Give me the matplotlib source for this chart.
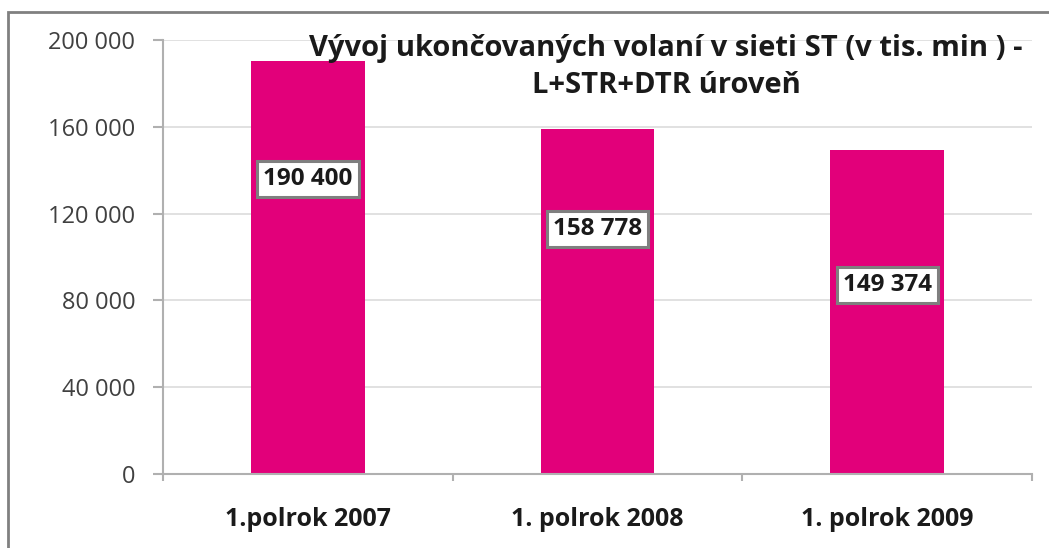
import matplotlib
matplotlib.use("Agg")
import matplotlib.pyplot as plt
from matplotlib.patches import Rectangle
from matplotlib.ticker import FuncFormatter

categories = ["1.polrok 2007", "1. polrok 2008", "1. polrok 2009"]
values = [190400, 158778, 149374]
label_pos = [136000, 113000, 87000]
title = "Vývoj ukončovaných volaní v sieti ST (v tis. min ) -\nL+STR+DTR úroveň"

fonts = ["Open Sans", "DejaVu Sans"]
plt.rcParams["font.family"] = fonts


def fmt(v):
    return "{:,}".format(int(v)).replace(",", " ")


fig = plt.figure(figsize=(10.49, 5.48), dpi=100)
ax = fig.add_axes([163 / 1049, 1 - 474 / 548, 869 / 1049, 434 / 548])

x = list(range(len(categories)))
ax.bar(x, values, width=0.393, color="#E2007A", zorder=2)

for xi, v, ly in zip(x, values, label_pos):
    ax.text(xi, ly, fmt(v), ha="center", va="center", fontsize=17.5,
            fontweight="bold", color="#1a1a1a", zorder=3,
            bbox=dict(boxstyle="square,pad=0.25", facecolor="white",
                      edgecolor="#7f7f7f", linewidth=2.2))

ax.set_xlim(-0.5, 2.5)
ax.set_ylim(0, 200000)
ax.set_yticks([0, 40000, 80000, 120000, 160000, 200000])
ax.yaxis.set_major_formatter(FuncFormatter(lambda v, p: fmt(v)))
ax.set_xticks(x)
ax.set_xticklabels(categories, fontsize=18, fontweight="bold", color="#1a1a1a")
ax.set_xticks([-0.5, 0.5, 1.5, 2.5], minor=True)
ax.tick_params(axis="x", which="major", length=0, pad=24)
ax.tick_params(axis="x", which="minor", length=5, width=1.5, color="#b0b0b0")
ax.tick_params(axis="y", length=7, width=1.5, color="#b0b0b0", pad=13,
               labelsize=17, labelcolor="#404040")
ax.grid(axis="y", color="#dcdcdc", linewidth=1.2, zorder=0)
for s in ["top", "right"]:
    ax.spines[s].set_visible(False)
for s in ["left", "bottom"]:
    ax.spines[s].set_color("#b0b0b0")
    ax.spines[s].set_linewidth(1.5)

fig.text(666 / 1049, 1 - 67 / 548, title, ha="center", va="center",
         fontsize=21, fontweight="bold", color="#1a1a1a", linespacing=1.35)

fig.patches.append(Rectangle((8 / 1049, -0.05), 1.2, 1 - 12 / 548 + 0.05,
                             transform=fig.transFigure, fill=False,
                             edgecolor="#808080", linewidth=2))

fig.savefig("out.png", dpi=100)
